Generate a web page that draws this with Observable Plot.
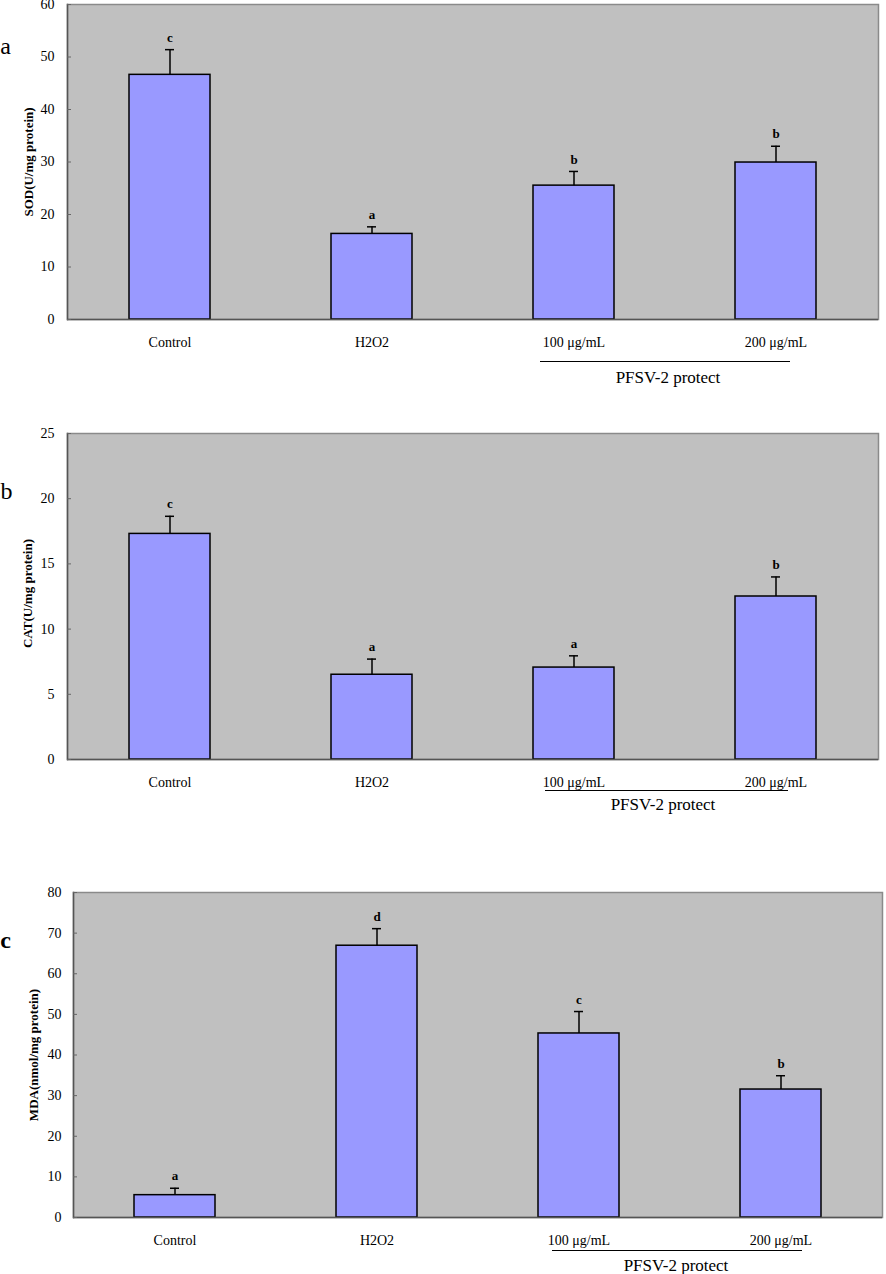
<!DOCTYPE html>
<html><head><meta charset="utf-8">
<script src="https://cdn.jsdelivr.net/npm/d3@7"></script>
<script src="https://cdn.jsdelivr.net/npm/@observablehq/plot@0.6"></script>
<style>
body{margin:0;background:#fff}
#chart{width:886px;height:1274px;position:relative;overflow:hidden}
#chart svg{display:block}
#chart svg text{font-family:'Liberation Serif','Times New Roman',serif}
</style>
</head><body><div id="chart"></div>
<script>
// ---- data ----
const categories = ["Control", "H2O2", "100 μg/mL", "200 μg/mL"];
const groupLabel = "PFSV-2 protect";

const sodMean = [46.6, 16.3, 25.5, 29.9];
const sodSD = [4.8, 1.35, 2.7, 3.1];
const sodLetters = ["c", "a", "b", "b"];
const sodTicks = [0, 10, 20, 30, 40, 50, 60];

const catMean = [17.3, 6.5, 7.05, 12.5];
const catSD = [1.35, 1.2, 0.9, 1.5];
const catLetters = ["c", "a", "a", "b"];
const catTicks = [0, 5, 10, 15, 20, 25];

const mdaMean = [5.5, 66.9, 45.3, 31.5];
const mdaSD = [1.7, 4.2, 5.4, 3.4];
const mdaLetters = ["a", "d", "c", "b"];
const mdaTicks = [0, 10, 20, 30, 40, 50, 60, 70, 80];

const FONT = "'Liberation Serif', 'Times New Roman', serif";

function panel(o) {
  const rows = categories.map((c, i) => ({
    cat: c, v: o.mean[i], sd: o.sd[i], top: o.mean[i] + o.sd[i], letter: o.letters[i]
  }));
  const ymax = o.ticks[o.ticks.length - 1];
  return Plot.plot({
    width: 886,
    height: o.height,
    marginTop: o.mt,
    marginBottom: o.mb,
    marginLeft: o.ml,
    marginRight: o.mr,
    style: {fontFamily: FONT, fontSize: "14px", background: "transparent", overflow: "visible", color: "#000"},
    x: {domain: categories, paddingInner: 0.6, paddingOuter: 0.3, label: null},
    y: {domain: [0, ymax], label: null},
    marks: [
      Plot.frame({fill: "#c0c0c0", stroke: "#8a8a8a", strokeWidth: 1.5}),
      Plot.frame({anchor: "left", stroke: "#555", strokeWidth: 1.5}),
      Plot.barY(rows, {x: "cat", y: "v", fill: "#9999ff", stroke: "#000", strokeWidth: 1.5}),
      Plot.ruleX(rows, {x: "cat", y1: "v", y2: "top", stroke: "#000", strokeWidth: 1.5}),
      Plot.tickY(rows, {x: "cat", y: "top", stroke: "#000", strokeWidth: 1.5, insetLeft: 36, insetRight: 36}),
      Plot.text(rows, {x: "cat", y: "top", text: "letter", dy: -12, fontWeight: "bold", fontSize: 13, fontFamily: FONT}),
      Plot.ruleY([0], {stroke: "#555", strokeWidth: 1.5}),
      Plot.axisY({ticks: o.ticks, tickSize: 4, dx: 4, text: null, stroke: "#666", label: null}),
      Plot.axisY({ticks: o.ticks, tickSize: 0, tickPadding: o.tickPad, fontSize: 14, fontFamily: FONT, label: null}),
      Plot.axisX({tickSize: 0, tickPadding: 18, fontSize: 14, fontFamily: FONT, label: null}),
      Plot.text([o.ylabel], {text: d => d, frameAnchor: "left", textAnchor: "middle", lineAnchor: "middle", rotate: -90,
        dx: o.titleDx, dy: o.titleDy, fontWeight: "bold", fontSize: 13, fontFamily: FONT}),
      Plot.text([o.panelLetter], {text: d => d, frameAnchor: "top-left", textAnchor: "middle", lineAnchor: "middle",
        dx: o.letterDx, dy: o.letterDy, fontSize: 24, fontWeight: o.letterWeight, fontFamily: FONT}),
      Plot.ruleY([0], {dy: o.lineDy, insetLeft: o.lineL, insetRight: o.lineR, stroke: "#000", strokeWidth: 1}),
      Plot.text([groupLabel], {text: d => d, frameAnchor: "bottom", textAnchor: "middle", lineAnchor: "middle",
        dx: o.groupDx, dy: o.groupDy, fontSize: 17, fontFamily: FONT})
    ]
  });
}

const chart = document.getElementById("chart");
chart.append(panel({
  mean: sodMean, sd: sodSD, letters: sodLetters, ticks: sodTicks,
  ylabel: "SOD(U/mg protein)", panelLetter: "a", letterWeight: "normal",
  height: 420, mt: 4, mb: 101, ml: 67, mr: 8, tickPad: 13,
  titleDx: -39, titleDy: 0, letterDx: -62, letterDy: 42,
  lineDy: 42, lineL: 473, lineR: 88, groupDx: 195, groupDy: 58
}));
chart.append(panel({
  mean: catMean, sd: catSD, letters: catLetters, ticks: catTicks,
  ylabel: "CAT(U/mg protein)", panelLetter: "b", letterWeight: "normal",
  height: 440, mt: 13, mb: 101, ml: 67, mr: 8, tickPad: 13,
  titleDx: -40, titleDy: -3, letterDx: -61, letterDy: 58,
  lineDy: 31, lineL: 478, lineR: 90, groupDx: 190, groupDy: 45
}));
chart.append(panel({
  mean: mdaMean, sd: mdaSD, letters: mdaLetters, ticks: mdaTicks,
  ylabel: "MDA(nmol/mg protein)", panelLetter: "c", letterWeight: "bold",
  height: 414, mt: 32, mb: 57, ml: 73, mr: 4, tickPad: 12,
  titleDx: -40, titleDy: 0, letterDx: -68, letterDy: 48,
  lineDy: 33, lineL: 479, lineR: 80, groupDx: 198, groupDy: 48
}));
</script>
</body></html>
